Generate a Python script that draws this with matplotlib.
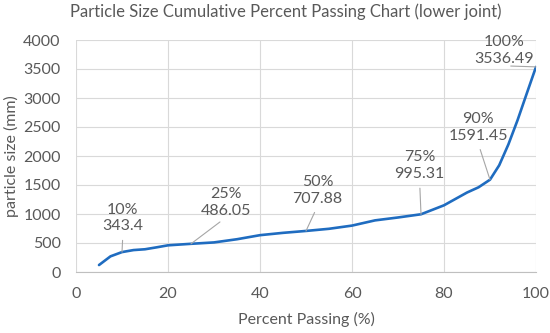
import numpy as np
import matplotlib
matplotlib.use("Agg")
import matplotlib.pyplot as plt

# values
percent = [5, 7.5, 10, 12.5, 15, 17.5, 20, 25, 30, 35, 40, 45, 50, 55, 60,
           65, 70, 75, 80, 85, 87.5, 90, 92, 94, 96, 98, 100]
size_mm = [120, 270, 343.4, 378, 392, 425, 460, 486.05, 510, 565, 635, 675,
           707.88, 745, 800, 890, 940, 995.31, 1150, 1370, 1460, 1591.45,
           1840, 2200, 2620, 3080, 3536.49]

label_pct = [10, 25, 50, 75, 90, 100]
label_size = [343.4, 486.05, 707.88, 995.31, 1591.45, 3536.49]
label_text = ["343.4", "486.05", "707.88", "995.31", "1591.45", "3536.49"]
# where each label box sits (data coords)
label_pos = [(10.2, 930), (32.5, 1200), (52.5, 1400), (74.7, 1830),
             (87.4, 2490), (93.0, 3820)]

txt = "#595959"
plt.rcParams["font.family"] = ["Lato", "DejaVu Sans"]

fig = plt.figure(figsize=(5.5, 3.33), dpi=100)
ax = fig.add_axes([76 / 550, 1 - 272 / 333, 460 / 550, 232 / 333])

ax.plot(percent, size_mm, color="#1f6cc0", lw=1.9, solid_joinstyle="round",
        solid_capstyle="round", zorder=3)

for p, s, t, pos in zip(label_pct, label_size, label_text, label_pos):
    ax.annotate(f"{p}%\n{t}", xy=(p, s), xytext=pos, ha="center", va="center",
                fontsize=11.5, color=txt, linespacing=1.25, annotation_clip=False,
                arrowprops=dict(arrowstyle="-", color="#a6a6a6", lw=0.8,
                                relpos=(0.5, 0), shrinkA=5, shrinkB=0,
                                patchA=None))

ax.set_xlim(0, 100)
ax.set_ylim(0, 4000)
ax.set_xticks(np.arange(0, 101, 20))
ax.set_yticks(np.arange(0, 4001, 500))
ax.grid(True, color="#d9d9d9", lw=0.8)
ax.set_axisbelow(True)
for side in ["top", "right", "left"]:
    ax.spines[side].set_visible(False)
ax.spines["bottom"].set_color("#bfbfbf")
ax.tick_params(length=0, pad=11, labelsize=11.5, labelcolor=txt)

ax.set_xlabel("Percent Passing (%)", fontsize=11.5, color=txt, labelpad=8)
ax.set_ylabel("particle size (mm)", fontsize=11.5, color=txt, labelpad=3)
fig.text(286 / 550, 1 - 12 / 333, "Particle Size Cumulative Percent Passing Chart (lower joint)",
         ha="center", va="center", fontsize=12, color=txt)

fig.savefig("out.png", dpi=100)
